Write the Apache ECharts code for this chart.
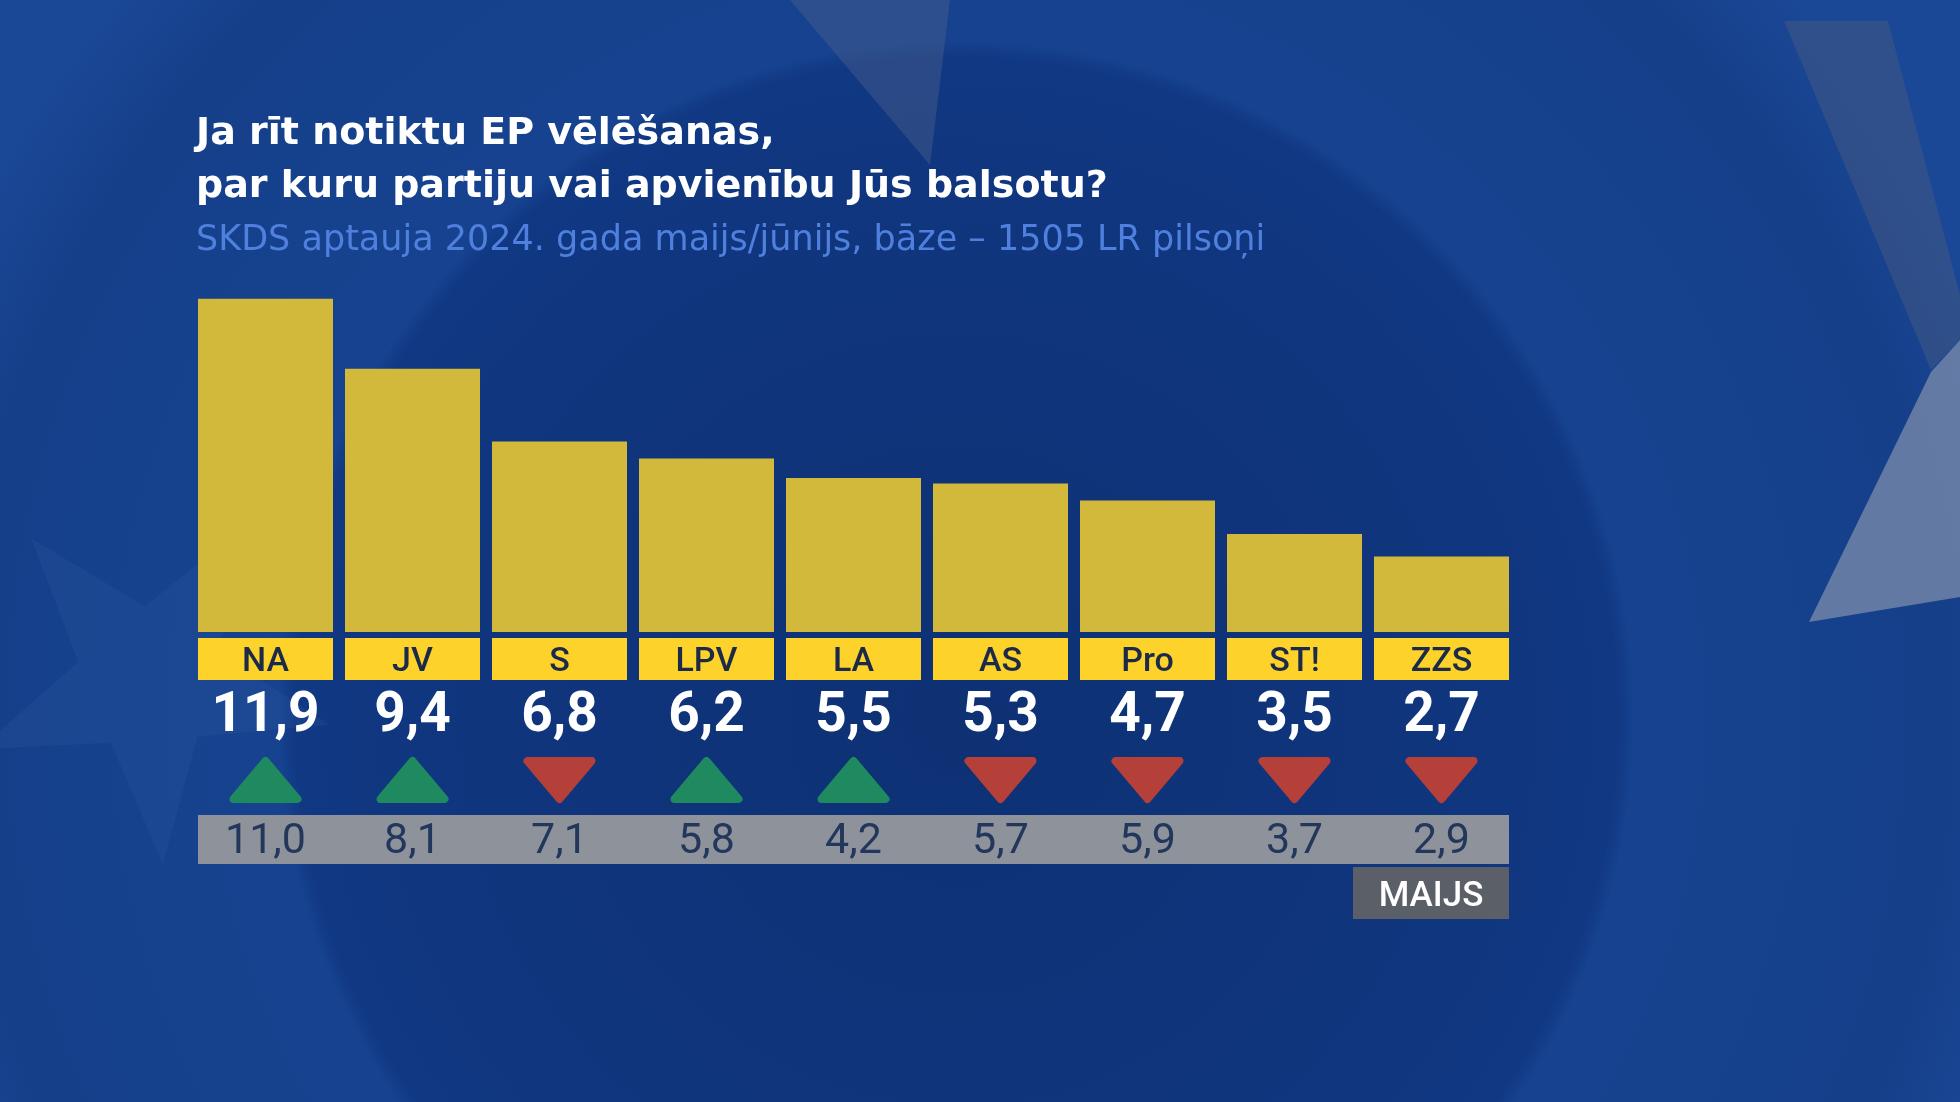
<!DOCTYPE html>
<html>
<head>
<meta charset="utf-8">
<script src="https://cdn.jsdelivr.net/npm/echarts@6/dist/echarts.min.js"></script>
<style>
  html, body { margin: 0; padding: 0; background: #0f3a85; }
  #chart { width: 1960px; height: 1102px; }
</style>
</head>
<body>
<div id="chart"></div>
<script>
// partijas un reitingi (jūnijs pret maiju)
const parties = ['NA', 'JV', 'S', 'LPV', 'LA', 'AS', 'Pro', 'ST!', 'ZZS'];
const june = [11.9, 9.4, 6.8, 6.2, 5.5, 5.3, 4.7, 3.5, 2.7];
const may = [11.0, 8.1, 7.1, 5.8, 4.2, 5.7, 5.9, 3.7, 2.9];
const prevLabel = 'MAIJS';

const titleLines = ['Ja rīt notiktu EP vēlēšanas,', 'par kuru partiju vai apvienību Jūs balsotu?'];
const subtitle = 'SKDS aptauja 2024. gada maijs/jūnijs, bāze – 1505 LR pilsoņi';

const fmt = v => v.toFixed(1).replace('.', ',');

const chart = echarts.init(document.getElementById('chart'));

const barW = 135;

function renderRow(params, api) {
  const idx = api.value(0);
  const cur = api.value(1);
  const prev = api.value(2);
  const p = api.coord([idx, 0]);
  const band = api.size([1, 0])[0];
  const cx = p[0];
  const y0 = p[1];
  const half = barW / 2;
  const last = idx === parties.length - 1;

  const children = [];
  // dzeltenā etiķete
  children.push({
    type: 'rect',
    shape: { x: cx - half, y: y0 + 6, width: barW, height: 42 },
    style: { fill: '#fdd22b' }
  });
  children.push({
    type: 'text',
    style: {
      x: cx, y: y0 + 30, text: parties[idx],
      fill: '#1b2a49', fontFamily: 'Roboto', fontSize: 34, fontWeight: 500,
      align: 'center', verticalAlign: 'middle'
    }
  });
  // vērtība
  children.push({
    type: 'text',
    style: {
      x: cx, y: y0 + 85, text: fmt(cur),
      fill: '#ffffff', fontFamily: 'Roboto', fontSize: 55, fontWeight: 'bold',
      align: 'center', verticalAlign: 'middle'
    }
  });
  // trijstūris
  const up = cur > prev;
  const t = y0 + 129, b = y0 + 167, w = 32;
  children.push({
    type: 'polygon',
    shape: {
      points: up
        ? [[cx, t], [cx + w, b], [cx - w, b]]
        : [[cx - w, t], [cx + w, t], [cx, b]]
    },
    style: {
      fill: up ? '#1f8a5f' : '#b5403a',
      stroke: up ? '#1f8a5f' : '#b5403a',
      lineWidth: 8, lineJoin: 'round'
    }
  });
  // pelēkā josla ar iepriekšējo vērtību
  const gl = idx === 0 ? cx - half : cx - band / 2;
  const gr = last ? cx + half : cx + band / 2;
  children.push({
    type: 'rect',
    shape: { x: gl, y: y0 + 183, width: gr - gl, height: 49 },
    style: { fill: '#8e939b' }
  });
  children.push({
    type: 'text',
    style: {
      x: cx, y: y0 + 210, text: fmt(prev),
      fill: '#23365c', fontFamily: 'Roboto', fontSize: 43,
      align: 'center', verticalAlign: 'middle'
    }
  });
  if (last) {
    children.push({
      type: 'rect',
      shape: { x: cx + half - 156, y: y0 + 235, width: 156, height: 52 },
      style: { fill: '#5b6068' }
    });
    children.push({
      type: 'text',
      style: {
        x: cx + half - 78, y: y0 + 265, text: prevLabel,
        fill: '#ffffff', fontFamily: 'Roboto', fontSize: 35, fontWeight: 500,
        align: 'center', verticalAlign: 'middle'
      }
    });
  }
  return { type: 'group', children: children };
}

// fona zvaigžņu fragmenti (tikai dekors)
function starPoints(cx, cy, r, rot) {
  const pts = [];
  for (let i = 0; i < 10; i++) {
    const a = (rot + i * 36) * Math.PI / 180;
    const rr = i % 2 === 0 ? r : r * 0.4;
    pts.push([cx + rr * Math.cos(a), cy + rr * Math.sin(a)]);
  }
  return pts;
}

const decor = [
  { points: starPoints(150, 680, 185, 230), fill: 'rgba(90,130,200,0.1)' },
  { points: [[1809, 622], [1931, 372], [1960, 340], [1960, 597]], fill: 'rgba(150,160,180,0.6)' },
  { points: [[1784, 21], [1888, 21], [1960, 295], [1960, 340], [1931, 370]], fill: 'rgba(70,90,130,0.5)' },
  { points: [[790, 0], [950, 0], [930, 165]], fill: 'rgba(80,100,140,0.4)' }
].map(d => ({
  type: 'polygon', silent: true, z: -10,
  shape: { points: d.points },
  style: { fill: d.fill }
}));

const option = {
  backgroundColor: {
    type: 'radial', x: 0.488, y: 0.652, r: 1.0,
    colorStops: [
      { offset: 0, color: '#0e3174' },
      { offset: 0.5, color: '#10367f' },
      { offset: 0.6, color: '#113883' },
      { offset: 0.615, color: '#16428f' },
      { offset: 0.75, color: '#15418d' },
      { offset: 0.9, color: '#163f89' },
      { offset: 1, color: '#1a4796' }
    ]
  },
  animation: false,
  graphic: decor.concat([
    {
      type: 'text', left: 196, top: 115,
      style: { text: titleLines[0], fill: '#ffffff', fontFamily: 'DejaVu Sans', fontSize: 38, fontWeight: 'bold' }
    },
    {
      type: 'text', left: 196, top: 168,
      style: { text: titleLines[1], fill: '#ffffff', fontFamily: 'DejaVu Sans', fontSize: 38, fontWeight: 'bold' }
    },
    {
      type: 'text', left: 196, top: 223,
      style: { text: subtitle, fill: '#4f80de', fontFamily: 'DejaVu Sans', fontSize: 35 }
    }
  ]),
  grid: { left: 192, top: 296, width: 1323, height: 336 },
  xAxis: {
    type: 'category',
    data: parties,
    axisLine: { show: false },
    axisTick: { show: false },
    axisLabel: { show: false }
  },
  yAxis: {
    type: 'value', min: 0, max: 12,
    show: false,
    splitLine: { show: false }
  },
  series: [
    {
      name: 'jūnijs',
      type: 'bar',
      barWidth: barW,
      itemStyle: { color: '#d2b83b' },
      data: june
    },
    {
      name: 'rinda',
      type: 'custom',
      clip: false,
      renderItem: renderRow,
      encode: { x: 0, y: 1 },
      data: parties.map((p, i) => [i, june[i], may[i]])
    }
  ]
};

chart.setOption(option);
</script>
</body>
</html>
